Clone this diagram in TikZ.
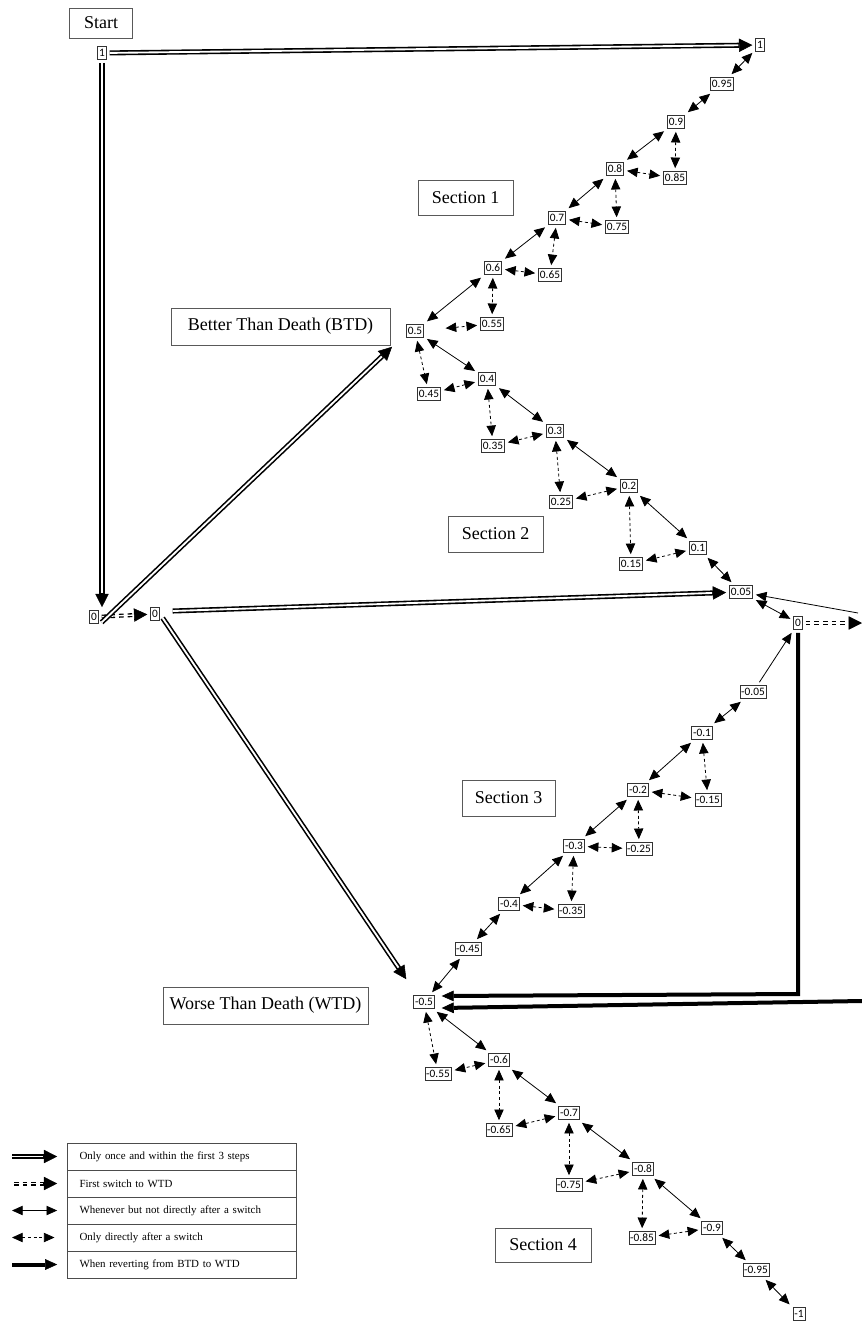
\documentclass[tikz,border=0pt]{standalone}
\usepackage{fontspec}
\setmainfont{Liberation Serif}
\newfontfamily\numfont{Carlito}
\usetikzlibrary{arrows.meta}

\begin{document}
\begin{tikzpicture}[x=0.75pt,y=-0.75pt,
  num/.style={draw=black!80, line width=0.5pt, fill=white,
    font=\numfont\fontsize{8.5}{9}\selectfont, inner xsep=1pt, inner ysep=0.8pt,
    minimum height=9.5pt, outer sep=2.6pt},
  tag/.style={draw=black!65, line width=0.7pt, font=\fontsize{13.5}{16}\selectfont, inner sep=0pt},
  key/.style={draw=black!70, line width=0.7pt, font=\fontsize{8.2}{10}\selectfont,
    minimum width=171.75pt, minimum height=20.25pt, text width=153pt,
    inner xsep=9pt, inner ysep=0pt, align=left},
  link/.style={line width=0.6pt, {Triangle[length=8pt,width=7pt]}-{Triangle[length=8pt,width=7pt]}},
  hop/.style={link, dash pattern=on 2.2pt off 2pt},
  tail/.style={line width=0.6pt, -{Triangle[length=8pt,width=7pt]}},
  once/.style={line width=3.8pt, -{Triangle[length=10pt,width=10pt,line width=0.4pt]},
    postaction={draw=white, line width=1.4pt, -, shorten >=10.5pt}},
  first/.style={line width=3pt, dash pattern=on 3.5pt off 3pt,
    -{Triangle[length=10pt,width=10pt,line width=0.4pt]},
    postaction={draw=white, line width=1pt, solid, -, shorten >=10.5pt}},
  revert/.style={line width=3pt, line join=miter, -{Triangle[length=9pt,width=8pt,line width=0.4pt]}},
]
\useasboundingbox (0,0) rectangle (862,1321);

% titles and section labels
\node[tag, minimum width=47.25pt, minimum height=22.5pt] (start) at (101,23) {Start};
\node[tag, minimum width=164.25pt, minimum height=27.75pt] (btd) at (280.5,326.5) {Better Than Death (BTD)};
\node[tag, minimum width=153.75pt, minimum height=27.75pt] (wtd) at (265.5,1005.5) {Worse Than Death (WTD)};
\node[tag, minimum width=71.25pt, minimum height=26.25pt] (sec1) at (465.5,197.5) {Section 1};
\node[tag, minimum width=71.25pt, minimum height=27pt] (sec2) at (495.5,534) {Section 2};
\node[tag, minimum width=69.75pt, minimum height=27pt] (sec3) at (508.5,798) {Section 3};
\node[tag, minimum width=72pt, minimum height=25.5pt] (sec4) at (543,1245) {Section 4};

% values on the positive side
\node[num] (s1) at (102,53) {1};
\node[num] (t1) at (760,45) {1};
\node[num] (p95) at (722,84) {0.95};
\node[num] (p90) at (676,122) {0.9};
\node[num] (p85) at (675,178) {0.85};
\node[num] (p80) at (615,169) {0.8};
\node[num] (p75) at (617,227) {0.75};
\node[num] (p70) at (557,218) {0.7};
\node[num] (p65) at (550,275) {0.65};
\node[num] (p60) at (493,268) {0.6};
\node[num] (p55) at (492,324) {0.55};
\node[num] (p50) at (415,331) {0.5};
\node[num] (p45) at (429,394) {0.45};
\node[num] (p40) at (487,379) {0.4};
\node[num] (p35) at (493,446) {0.35};
\node[num] (p30) at (555,431) {0.3};
\node[num] (p25) at (561,502) {0.25};
\node[num] (p20) at (629,486) {0.2};
\node[num] (p15) at (631,564) {0.15};
\node[num] (p10) at (698,548) {0.1};
\node[num] (p05) at (741,592) {0.05};

% zero points
\node[num] (z0a) at (94,617) {0};
\node[num] (z0b) at (155,614) {0};
\node[num] (z0r) at (798,623) {0};

% values on the negative side
\node[num] (n05) at (753,692) {-0.05};
\node[num] (n10) at (702,733) {-0.1};
\node[num] (n15) at (708,800) {-0.15};
\node[num] (n20) at (638,790) {-0.2};
\node[num] (n25) at (639,849) {-0.25};
\node[num] (n30) at (574,846) {-0.3};
\node[num] (n35) at (571,911) {-0.35};
\node[num] (n40) at (509,904) {-0.4};
\node[num] (n45) at (468,949) {-0.45};
\node[num] (n50) at (424,1002) {-0.5};
\node[num] (n55) at (438,1074) {-0.55};
\node[num] (n60) at (499,1060) {-0.6};
\node[num] (n65) at (499,1130) {-0.65};
\node[num] (n70) at (569,1113) {-0.7};
\node[num] (n75) at (569,1185) {-0.75};
\node[num] (n80) at (643,1169) {-0.8};
\node[num] (n85) at (642,1238) {-0.85};
\node[num] (n90) at (712,1228) {-0.9};
\node[num] (n95) at (756,1270) {-0.95};
\node[num] (n100) at (799,1314) {-1};

% loose ends at the right margin
\coordinate (rin) at (858,613);
\coordinate (rout) at (862,623);
\coordinate (rc) at (798,994);
\coordinate (re) at (862,1001);

% one-off moves from the start
\draw[once] (s1) -- (t1);
\draw[once] (s1.south) -- (s1.south |- z0a.north);
\draw[first] (z0a) -- (z0b);
\draw[once] ([yshift=-4]z0a.east) -- ([shift={(-11,6)}]p50.south west);
\draw[once] ([shift={(10,-3)}]z0b.east) -- (p05);
\draw[once] ([yshift=-3]z0b.east) -- ([shift={(-4,-13)}]n50.north west);

% main steps, positive side
\foreach \a/\b in {t1/p95,p95/p90,p90/p80,p80/p70,p70/p60,p60/p50,p50/p40,
                   p40/p30,p30/p20,p20/p10,p10/p05,p05/z0r}
  \draw[link] (\a) -- (\b);

% steps right after a switch, positive side
\foreach \a/\b in {p90/p85,p80/p85,p80/p75,p70/p75,p70/p65,p60/p65,p60/p55,
                   p50/p45,p40/p45,p40/p35,p30/p35,p30/p25,p20/p25,p20/p15,p10/p15}
  \draw[hop] (\a) -- (\b);
\draw[hop, shorten <=14pt] (p50) -- (p55);

% crossing zero
\draw[tail] (rin) -- (p05);
\draw[tail] (n05) -- (z0r);
\draw[first] (z0r) -- (rout);

% main steps, negative side
\foreach \a/\b in {n05/n10,n10/n20,n20/n30,n30/n40,n40/n45,n45/n50,
                   n50/n60,n60/n70,n70/n80,n80/n90,n90/n95,n95/n100}
  \draw[link] (\a) -- (\b);

% steps right after a switch, negative side
\foreach \a/\b in {n10/n15,n20/n15,n20/n25,n30/n25,n30/n35,n40/n35,
                   n50/n55,n60/n55,n60/n65,n70/n65,n70/n75,n80/n75,n80/n85,n90/n85}
  \draw[hop] (\a) -- (\b);

% reverting from BTD to WTD
\draw[revert] (z0r.south) -- (rc) -- ([shift={(4,-6)}]n50.east);
\draw[revert] (re) -- ([shift={(4,6)}]n50.east);

% legend
\node[key] (k1) at (181.5,1156.5) {Only once and within the first 3 steps};
\node[key] (k2) at (181.5,1183.5) {First switch to WTD};
\node[key] (k3) at (181.5,1210.5) {Whenever but not directly after a switch};
\node[key] (k4) at (181.5,1237.5) {Only directly after a switch};
\node[key] (k5) at (181.5,1264.5) {When reverting from BTD to WTD};

\coordinate (e1) at (12,1156.5);
\coordinate (e2) at (14,1183.5);
\coordinate (e3) at (12,1210.5);
\coordinate (e4) at (12,1237.5);
\coordinate (e5) at (12,1264.5);
\draw[once] (e1) -- ([xshift=-7]k1.west);
\draw[first] (e2) -- ([xshift=-7]k2.west);
\draw[link] (e3) -- ([xshift=-7]k3.west);
\draw[hop] (e4) -- ([xshift=-9]k4.west);
\draw[revert] (e5) -- ([xshift=-7]k5.west);
\end{tikzpicture}
\end{document}
